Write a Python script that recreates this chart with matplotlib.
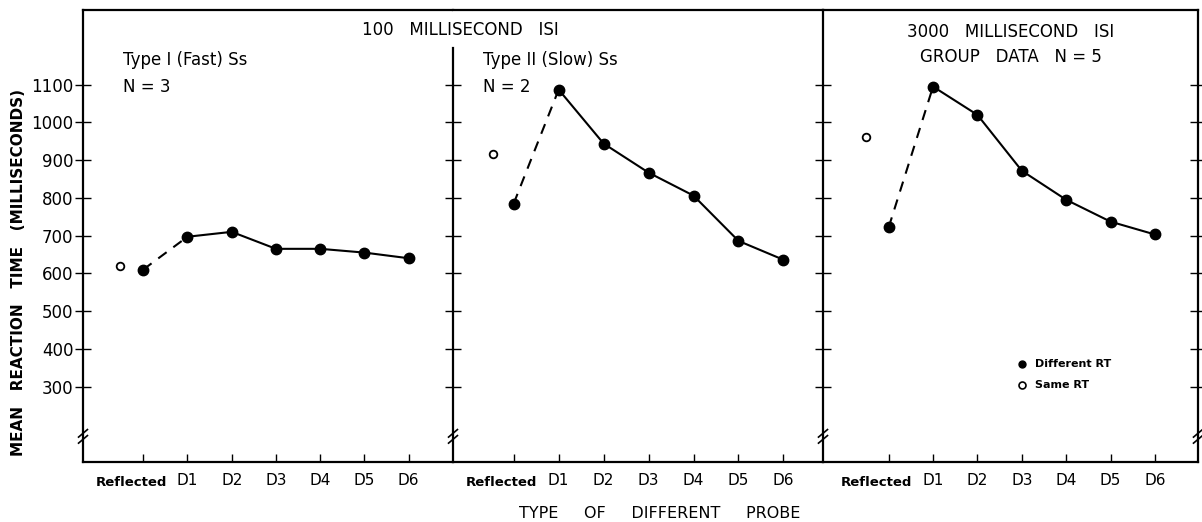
import numpy as np
import matplotlib
matplotlib.use("Agg")
import matplotlib.pyplot as plt
import matplotlib.transforms as mtransforms

probes = ["Reflected", "D1", "D2", "D3", "D4", "D5", "D6"]
yticks = [300, 400, 500, 600, 700, 800, 900, 1000, 1100]

# mean RT, different probes (Reflected, D1..D6)
fast_diff = [610, 697, 710, 665, 665, 655, 640]
slow_diff = [785, 1087, 944, 867, 806, 686, 636]
group_diff = [722, 1095, 1020, 872, 795, 737, 703]
# mean RT, same probes
fast_same = 620
slow_same = 916
group_same = 962

plt.rcParams['font.family'] = ['DejaVu Sans']
fig = plt.figure(figsize=(12.02, 5.22), dpi=100)

W, H = 1202.0, 522.0
bot = (H - 462) / H
hgt = (462 - 10) / H
ax1 = fig.add_axes([83 / W, bot, 370 / W, hgt])
ax2 = fig.add_axes([453 / W, bot, 370 / W, hgt])
ax3 = fig.add_axes([823 / W, bot, 375 / W, hgt])

ylim = (100, 1298)
xs = np.arange(len(probes))
xlims = [(-1.36, 7.0), (-1.35, 6.88), (-1.48, 6.97)]
same_x = [-0.52, -0.47, -0.52]


def draw_panel(ax, diff, same, xl, sx):
    ax.set_xlim(*xl)
    ax.set_ylim(*ylim)
    ax.plot(xs[:2], diff[:2], color="black", lw=1.5, ls=(0, (5, 4)))
    ax.plot(xs[1:], diff[1:], color="black", lw=1.5)
    ax.plot(xs, diff, "o", color="black", ms=7.5, ls="none")
    ax.plot([sx], [same], "o", mfc="white", mec="black", ms=5.5, mew=1.3)
    ax.set_xticks(xs)
    ax.set_xticklabels(probes)
    ax.tick_params(axis="x", direction="in", length=6, width=1, pad=8, labelsize=11)
    ax.set_yticks(yticks)
    shift = mtransforms.ScaledTranslation(-0.12, -0.03, fig.dpi_scale_trans)
    for lab in ax.get_xticklabels():
        if lab.get_text() == "Reflected":
            lab.set_fontsize(9.5)
            lab.set_fontweight("bold")
            lab.set_transform(lab.get_transform() + shift)
    for s in ax.spines.values():
        s.set_linewidth(1.6)


def brk(ax, xpos):
    tr = mtransforms.blended_transform_factory(ax.transAxes, ax.transData)
    for dy in (0, 16):
        ax.plot([xpos - 0.012, xpos + 0.012], [150 + dy, 170 + dy],
                color="black", lw=1.2, transform=tr, clip_on=False)


draw_panel(ax1, fast_diff, fast_same, xlims[0], same_x[0])
draw_panel(ax2, slow_diff, slow_same, xlims[1], same_x[1])
draw_panel(ax3, group_diff, group_same, xlims[2], same_x[2])

# panel 1: labelled left axis
ax1.tick_params(axis="y", direction="inout", length=12, width=1, labelsize=12, pad=1)
ax1.spines["right"].set_visible(False)

# panel 2: its left spine is the divider, stops below the shared header
ax2.spines["left"].set_bounds(ylim[0], 1198)
ax2.spines["right"].set_visible(False)
ax2.tick_params(axis="y", direction="inout", length=12, width=1, labelleft=False)

# panel 3
ax3.tick_params(axis="y", direction="inout", length=12, width=1, labelleft=False,
                right=True)
ax3.yaxis.set_ticks_position("both")

for ax in (ax1, ax2, ax3):
    brk(ax, 0.0)
brk(ax3, 1.0)

# headings
fs = 12
fig.text(460 / W, 1 - 30 / H, "100   MILLISECOND   ISI", ha="center", va="center", fontsize=fs)
ax1.text(0.108, 0.889, "Type I (Fast) Ss", transform=ax1.transAxes, fontsize=fs, va="center")
ax1.text(0.108, 0.830, "N = 3", transform=ax1.transAxes, fontsize=fs, va="center")
ax2.text(0.081, 0.889, "Type II (Slow) Ss", transform=ax2.transAxes, fontsize=fs, va="center")
ax2.text(0.081, 0.830, "N = 2", transform=ax2.transAxes, fontsize=fs, va="center")
ax3.text(0.50, 0.952, "3000   MILLISECOND   ISI", transform=ax3.transAxes, ha="center",
         va="center", fontsize=fs)
ax3.text(0.50, 0.896, "GROUP   DATA   N = 5", transform=ax3.transAxes, ha="center",
         va="center", fontsize=fs)

# legend
ax3.plot([3.0], [361], "o", color="black", ms=5, clip_on=False)
ax3.text(3.3, 361, "Different RT", fontsize=8, fontweight="bold", va="center")
ax3.plot([3.0], [305], "o", mfc="white", mec="black", ms=5, mew=1.2)
ax3.text(3.3, 305, "Same RT", fontsize=8, fontweight="bold", va="center")

fig.text(19 / W, 1 - 272 / H, "MEAN   REACTION   TIME   (MILLISECONDS)", rotation=90,
         ha="center", va="center", fontsize=11, fontweight="bold")
fig.text(660 / W, 1 - 513 / H, "TYPE     OF     DIFFERENT     PROBE", ha="center",
         va="center", fontsize=11.5)

fig.savefig("out.png", dpi=100)
